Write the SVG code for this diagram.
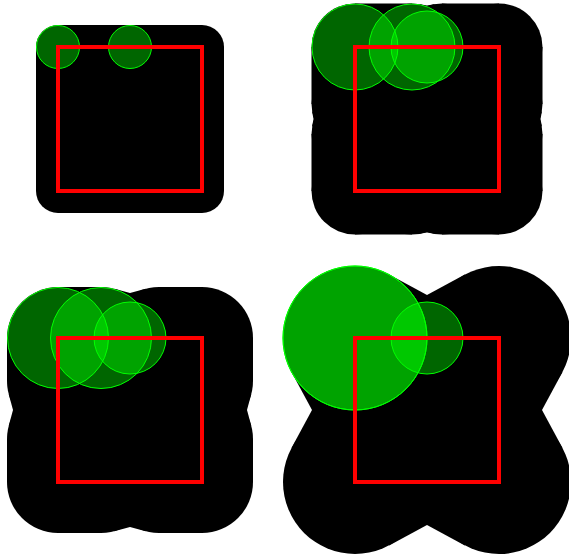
<svg xmlns="http://www.w3.org/2000/svg" xmlns:xlink="http://www.w3.org/1999/xlink" width="569" height="557" viewBox="0 0 569 557">
<style>
.blk{fill:#000;stroke:none}
.dot{fill:#00ff00;fill-opacity:0.4;stroke:#00ff00;stroke-width:1}
.sq{fill:none;stroke:#ff0000;stroke-width:4}
</style>
<defs>
<g id="q2">
<circle class="blk" cx="-72" cy="-72" r="43.5"/>
<circle class="blk" cx="-15" cy="-72" r="43.5"/>
<rect class="blk" x="-72" y="-115.5" width="57" height="44"/>
<polygon class="blk" points="-15,-72 -7.32,-114.82 0,-113.5 0,-72"/>
<circle class="blk" cx="-72" cy="-15" r="43.5"/>
<rect class="blk" x="-115.5" y="-72" width="44" height="57"/>
<polygon class="blk" points="-72,-15 -114.82,-7.32 -113.5,0 -72,0"/>
</g>
<g id="q3">
<circle class="blk" cx="-72" cy="-72" r="51"/>
<circle class="blk" cx="-29" cy="-72" r="51"/>
<rect class="blk" x="-72" y="-123" width="43" height="51.5"/>
<polygon class="blk" points="-29,-72 -15.71,-121.24 0,-117 0,-72"/>
<circle class="blk" cx="-72" cy="-29" r="51"/>
<rect class="blk" x="-123" y="-72" width="51.5" height="43"/>
<polygon class="blk" points="-72,-29 -121.24,-15.71 -117,0 -72,0"/>
</g>
<g id="q4">
<circle class="blk" cx="-72" cy="-72" r="72"/>
<polygon class="blk" points="-72,-72 -37.85,-135.39 0,-115 0,-72"/>
<polygon class="blk" points="-72,-72 -135.39,-37.85 -115,0 -72,0"/>
</g>
</defs>
<g id="panel1">
<rect class="blk" x="36" y="25" width="188" height="188" rx="22"/>
<circle class="dot" cx="58" cy="47" r="21.5"/>
<circle class="dot" cx="130" cy="47" r="21.5"/>
<rect class="sq" x="58" y="47" width="144" height="144"/>
</g>
<g id="panel2">
<g transform="translate(427,119)">
<rect class="blk" x="-73" y="-73" width="146" height="146"/>
<use href="#q2"/>
<use href="#q2" transform="rotate(90)"/>
<use href="#q2" transform="rotate(180)"/>
<use href="#q2" transform="rotate(270)"/>
</g>
<circle class="dot" cx="355" cy="47" r="43"/>
<circle class="dot" cx="412" cy="47" r="43"/>
<circle class="dot" cx="427" cy="47" r="36"/>
<rect class="sq" x="355" y="47" width="144" height="144"/>
</g>
<g id="panel3">
<g transform="translate(130,410)">
<rect class="blk" x="-73" y="-73" width="146" height="146"/>
<use href="#q3"/>
<use href="#q3" transform="rotate(90)"/>
<use href="#q3" transform="rotate(180)"/>
<use href="#q3" transform="rotate(270)"/>
</g>
<circle class="dot" cx="58" cy="338" r="50.5"/>
<circle class="dot" cx="101" cy="338" r="50.5"/>
<circle class="dot" cx="130" cy="338" r="36"/>
<rect class="sq" x="58" y="338" width="144" height="144"/>
</g>
<g id="panel4">
<g transform="translate(427,410)">
<rect class="blk" x="-73" y="-73" width="146" height="146"/>
<use href="#q4"/>
<use href="#q4" transform="rotate(90)"/>
<use href="#q4" transform="rotate(180)"/>
<use href="#q4" transform="rotate(270)"/>
</g>
<circle class="dot" cx="355" cy="338" r="72"/>
<circle class="dot" cx="355" cy="338" r="72"/>
<circle class="dot" cx="427" cy="338" r="36"/>
<rect class="sq" x="355" y="338" width="144" height="144"/>
</g>
</svg>
